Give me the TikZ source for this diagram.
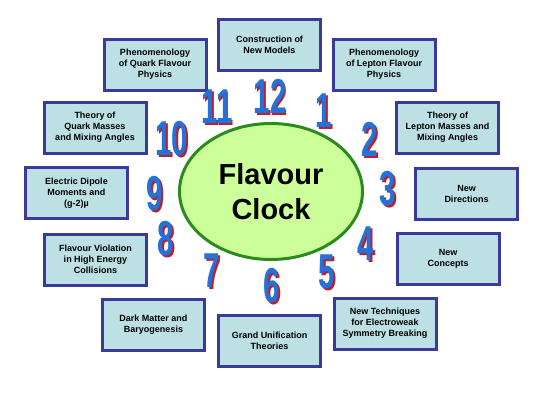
\documentclass[tikz,border=0pt]{standalone}
\usepackage{fontspec}
\setmainfont{Liberation Sans}
\usetikzlibrary{shapes.geometric}
\definecolor{boxfill}{HTML}{BCE0E3}
\definecolor{boxline}{HTML}{3B3A9C}
\definecolor{clockfill}{HTML}{CCFF99}
\definecolor{clockline}{HTML}{2A8C1E}
\definecolor{hourblue}{HTML}{2371DA}
\definecolor{hourred}{HTML}{B8232B}
% number with its red shadow, squeezed
\newcommand{\hourtext}[1]{\scalebox{0.6}[1]{\rlap{\kern3pt\raisebox{-1.8pt}{\textcolor{hourred}{#1}}}#1}}
\tikzset{
x=1pt, y=-1pt, % work in pixels of the original
topic/.style={draw=boxline, fill=boxfill, line width=3pt, minimum width=102pt, minimum height=51pt, align=center, inner sep=0pt, font=\bfseries\fontsize{9}{11}\selectfont}, % the twelve topic boxes
clock/.style={ellipse, draw=clockline, fill=clockfill, line width=3pt, minimum width=183pt, minimum height=136pt, align=center, font=\bfseries\fontsize{29}{35}\selectfont}, % the clock face
hour/.style={text=hourblue, font=\bfseries\fontsize{49}{49}\selectfont}, % clock numbers
}
\begin{document}
\begin{tikzpicture}
		\useasboundingbox (0,0) rectangle (540,405);
		\node[topic] (h12) at (269.5,44.5) {Construction of\\New Models};
		\node[topic] (h1) at (384,64.5) {Phenomenology\\of Lepton Flavour\\Physics};
		\node[topic] (h2) at (447.5,127.5) {Theory of\\Lepton Masses and\\Mixing Angles};
		\node[topic] (h3) at (466.5,193.5) {New\\Directions};
		\node[topic] (h4) at (448,258.5) {New\\Concepts};
		\node[topic] (h5) at (385,323.5) {New Techniques\\for Electroweak\\Symmetry Breaking};
		\node[topic] (h6) at (269.5,340.5) {Grand Unification\\Theories};
		\node[topic] (h7) at (153.5,324.5) {Dark Matter and\\Baryogenesis};
		\node[topic] (h8) at (95.5,259.5) {Flavour Violation\\in High Energy\\Collisions};
		\node[topic] (h9) at (76.5,193) {Electric Dipole\\Moments and\\(g-2)\textmu};
		\node[topic] (h10) at (95,127.5) {Theory of\\Quark Masses\\and Mixing Angles};
		\node[topic] (h11) at (155,64.5) {Phenomenology\\of Quark Flavour\\Physics};
		\node[clock] (face) at (271,191.5) {Flavour\\Clock};
		% numbers round the face
		\foreach \h/\x/\y in {12/270/97, 1/324/112, 2/370/140, 3/388/190, 4/366/245, 5/327/273,
			6/272/287, 7/212/272, 8/166/240, 9/155/195, 10/172/140, 11/217/108} {
			\node[hour] (n\h) at (\x,\y) {\hourtext{\h}};
		}
	\end{tikzpicture}
\end{document}
